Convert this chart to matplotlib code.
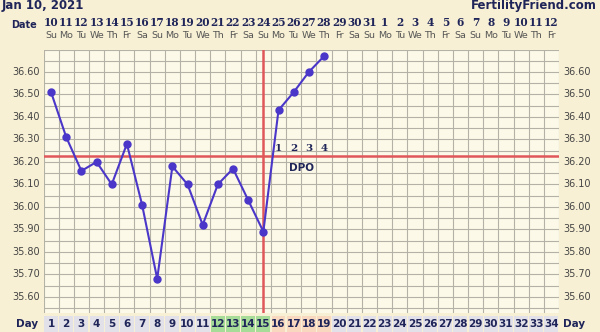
import numpy as np
import matplotlib
matplotlib.use("Agg")
import matplotlib.pyplot as plt
import matplotlib.transforms as mtrans

# chart data
days = list(range(1, 20))
temps = [36.51, 36.31, 36.16, 36.20, 36.10, 36.28, 36.01, 35.68, 36.18, 36.10,
         35.92, 36.10, 36.17, 36.03, 35.89, 36.43, 36.51, 36.60, 36.67]
dates = ["10", "11", "12", "13", "14", "15", "16", "17", "18", "19", "20", "21",
         "22", "23", "24", "25", "26", "27", "28", "29", "30", "31", "1", "2",
         "3", "4", "5", "6", "7", "8", "9", "10", "11", "12"]
weekdays = ["Su", "Mo", "Tu", "We", "Th", "Fr", "Sa"]
cycle_days = list(range(1, 35))
fertile_days = [12, 13, 14, 15]
luteal_days = [16, 17, 18, 19]
coverline = 36.225
ovulation_day = 15
dpo_labels = ["1", "2", "3", "4"]
yticks = [35.60, 35.70, 35.80, 35.90, 36.00, 36.10, 36.20, 36.30, 36.40, 36.50, 36.60]

W, H = 600, 332
bg_out = "#f8f0d4"
bg_in = "#fcf9e8"
navy = "#1f2559"
line_col = "#4a36c8"
red = "#e0575a"
grid_col = "#b4b1a6"

fig = plt.figure(figsize=(W / 100, H / 100), dpi=100, facecolor=bg_out)

x0, x1 = 43.5, 559.0
y_top, y_bot = 49.5, 313.0
ax = fig.add_axes([x0 / W, 1 - y_bot / H, (x1 - x0) / W, (y_bot - y_top) / H])
ax.set_facecolor(bg_in)
ax.set_xlim(0.5, 34.5)
ax.set_ylim(35.528, 36.70)

# grid
for xv in np.arange(0.5, 35.0, 1.0):
    ax.axvline(xv, color=grid_col, lw=0.8, zorder=1)
for yv in np.arange(35.55, 36.70, 0.05):
    ax.axhline(yv, color=grid_col, lw=0.8, zorder=1)

ax.axhline(coverline, color=red, lw=1.8, zorder=2)
ax.axvline(ovulation_day, color=red, lw=1.8, zorder=2)

ax.plot(days, temps, color=line_col, lw=1.5, marker="o", ms=5,
        markerfacecolor=line_col, markeredgecolor=line_col, zorder=4)

for i, lab in enumerate(dpo_labels):
    ax.text(ovulation_day + 1 + i, coverline + 0.015, lab, ha="center", va="bottom",
            fontsize=7.5, fontweight="bold", color=navy, family="DejaVu Serif", zorder=5)
ax.text(17.5, coverline - 0.05, "DPO", ha="center", va="center", fontsize=7.5,
        fontweight="bold", color=navy, zorder=5)

ax.set_xticks([])
ax.set_yticks([])
for s in ax.spines.values():
    s.set_visible(False)

# y labels on both sides
trans_l = mtrans.blended_transform_factory(fig.transFigure, ax.transData)
for t in yticks:
    fig.text(40 / W, t, "%.2f" % t, transform=trans_l, ha="right", va="center",
             fontsize=7, color="#444444")
    fig.text(563 / W, t, "%.2f" % t, transform=trans_l, ha="left", va="center",
             fontsize=7, color="#444444")

# header texts
fig.text(2 / W, 1 - 5 / H, "Jan 10, 2021", ha="left", va="center", fontsize=8.5,
         fontweight="bold", color=navy)
fig.text(597 / W, 1 - 5 / H, "FertilityFriend.com", ha="right", va="center",
         fontsize=8.5, fontweight="bold", color=navy)
fig.text(37 / W, 1 - 25 / H, "Date", ha="right", va="center", fontsize=7,
         fontweight="bold", color=navy)

trans_top = mtrans.blended_transform_factory(ax.transData, fig.transFigure)
for i, d in enumerate(dates):
    ax.text(i + 1, 1 - 23 / H, d, transform=trans_top, ha="center", va="center",
            fontsize=7.6, fontweight="bold", color=navy, family="DejaVu Serif")
    ax.text(i + 1, 1 - 36 / H, weekdays[i % 7], transform=trans_top, ha="center",
            va="center", fontsize=6.8, color="#555555")

# day row
dax = fig.add_axes([x0 / W, 0, (x1 - x0) / W, (H - 316) / H])
dax.set_xlim(0.5, 34.5)
dax.set_ylim(0, 1)
dax.axis("off")
for d in cycle_days:
    if d in fertile_days:
        c = "#a6dc98"
    elif d in luteal_days:
        c = "#f8d9bf"
    else:
        c = "#e2e0e8"
    dax.bar(d, 1, width=0.92, bottom=0, color=c, edgecolor="none")
    dax.text(d, 0.5, str(d), ha="center", va="center", fontsize=7.5,
             fontweight="bold", color=navy)
fig.text(38 / W, 8 / H, "Day", ha="right", va="center", fontsize=7.5,
         fontweight="bold", color=navy)
fig.text(563 / W, 8 / H, "Day", ha="left", va="center", fontsize=7.5,
         fontweight="bold", color=navy)

fig.savefig("out.png", dpi=100, facecolor=bg_out)
